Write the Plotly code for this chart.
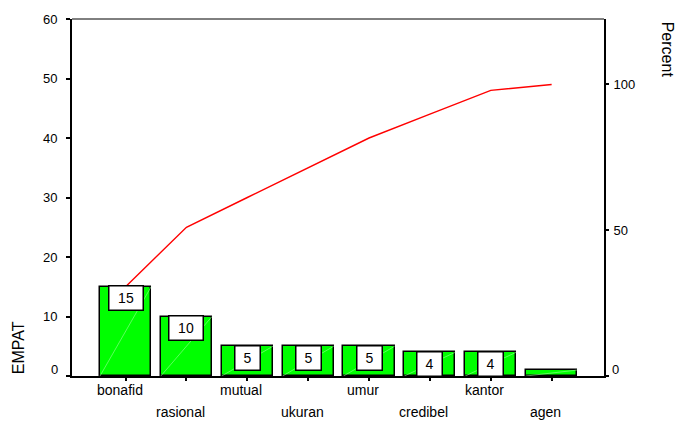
import numpy as np
import plotly.graph_objects as go

# Pareto data: EMPAT counts per category
categories = ["bonafid", "rasional", "mutual", "ukuran", "umur", "credibel", "kantor", "agen"]
counts = [15, 10, 5, 5, 5, 4, 4, 1]
left_ticks = [0, 10, 20, 30, 40, 50, 60]
right_ticks = [0, 50, 100]

total = sum(counts)
cum_pct = np.cumsum(counts) / total * 100.0
idx = list(range(len(categories)))

FONT = "Liberation Sans, Arial, sans-serif"
BAR_W = 0.84

fig = go.Figure()

fig.add_trace(go.Bar(
    x=idx, y=counts, width=BAR_W,
    marker=dict(color="#00FF00", line=dict(color="black", width=1.5)),
    hoverinfo="skip", showlegend=False,
))

# faint diagonal inside each bar
dx, dy = [], []
for i, v in zip(idx, counts):
    dx += [i - BAR_W / 2, i + BAR_W / 2, None]
    dy += [0, v, None]
fig.add_trace(go.Scatter(
    x=dx, y=dy, mode="lines",
    line=dict(color="rgba(170,255,170,0.9)", width=0.6),
    hoverinfo="skip", showlegend=False,
))

# cumulative percentage line
fig.add_trace(go.Scatter(
    x=idx, y=cum_pct, yaxis="y2", mode="lines",
    line=dict(color="#FF0000", width=1.4),
    hoverinfo="skip", showlegend=False,
))

annotations = []
# value boxes
for i, v in zip(idx, counts):
    if v < 2:
        continue
    txt = str(v)
    annotations.append(dict(
        x=i, y=v, xref="x", yref="y", text=txt, showarrow=False,
        yanchor="top", xanchor="center", yshift=1.5,
        font=dict(family=FONT, size=14, color="black"),
        bgcolor="white", bordercolor="black", borderwidth=1.5, borderpad=2,
        width=29 if len(txt) > 1 else 20, height=19,
    ))

# staggered category labels
for i, c in zip(idx, categories):
    annotations.append(dict(
        x=i, y=0, xref="x", yref="paper", text=c, showarrow=False,
        xanchor="center", yanchor="middle", xshift=-6,
        yshift=-14 if i % 2 == 0 else -36,
        font=dict(family=FONT, size=14, color="black"),
    ))

# zero labels sit a little above the baseline
annotations.append(dict(
    x=0, y=0, xref="paper", yref="paper", text="0", showarrow=False,
    xanchor="right", yanchor="middle", xshift=-12, yshift=7,
    font=dict(family=FONT, size=13, color="black"),
))
annotations.append(dict(
    x=1, y=0, xref="paper", yref="paper", text="0", showarrow=False,
    xanchor="left", yanchor="middle", xshift=6, yshift=7,
    font=dict(family=FONT, size=13, color="black"),
))

# axis titles
annotations.append(dict(
    x=0, y=0.078, xref="paper", yref="paper", text="EMPAT", showarrow=False,
    textangle=-90, xanchor="center", yanchor="middle", xshift=-54,
    font=dict(family=FONT, size=16, color="black"),
))
annotations.append(dict(
    x=1, y=0.914, xref="paper", yref="paper", text="Percent", showarrow=False,
    textangle=90, xanchor="center", yanchor="middle", xshift=63,
    font=dict(family=FONT, size=16, color="black"),
))

fig.update_layout(
    width=676, height=421,
    margin=dict(l=72, r=72, t=17, b=45),
    paper_bgcolor="white", plot_bgcolor="white",
    font=dict(family=FONT, size=13, color="black"),
    bargap=0,
    xaxis=dict(
        range=[-0.88, 7.86], tickvals=idx, ticktext=[""] * len(idx),
        ticks="outside", ticklen=3, tickwidth=2, tickcolor="black",
        showline=True, linewidth=2, linecolor="black",
        showgrid=False, zeroline=False, fixedrange=True,
    ),
    yaxis=dict(
        range=[0, 60], tickvals=left_ticks,
        ticktext=[str(t) if t else "" for t in left_ticks],
        ticks="outside", ticklen=4, tickwidth=2, tickcolor="black",
        ticklabelstandoff=6,
        showline=True, linewidth=2, linecolor="black",
        showgrid=False, zeroline=False,
        tickfont=dict(family=FONT, size=13),
    ),
    yaxis2=dict(
        range=[0, 60 / total * 100], overlaying="y", side="right",
        tickvals=right_ticks, ticktext=[str(t) if t else "" for t in right_ticks],
        ticks="outside", ticklen=3, tickwidth=2, tickcolor="black",
        ticklabelstandoff=2,
        showline=True, linewidth=2, linecolor="black",
        showgrid=False, zeroline=False,
        tickfont=dict(family=FONT, size=13),
    ),
    shapes=[dict(type="line", xref="paper", yref="paper", x0=0, x1=1, y0=1, y1=1,
                 line=dict(color="black", width=1))],
    annotations=annotations,
)

fig.write_html("out.html")
